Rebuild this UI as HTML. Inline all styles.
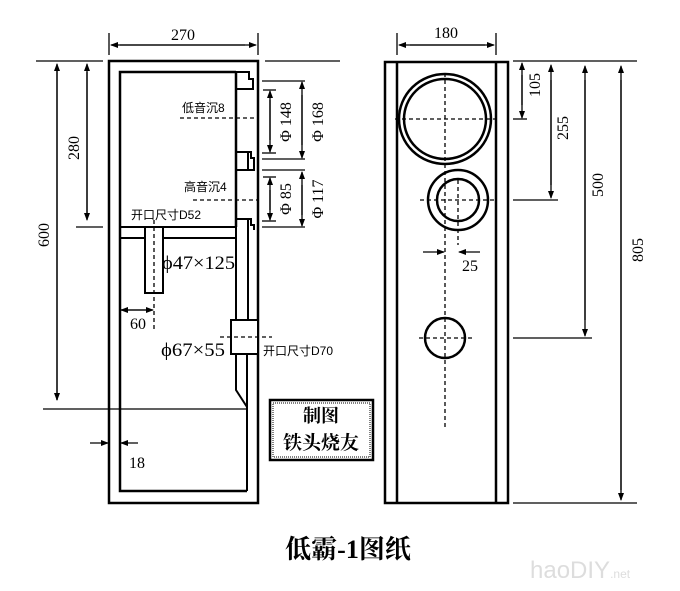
<!DOCTYPE html>
<html><head><meta charset="utf-8"><style>
html,body{margin:0;padding:0;background:#fff;}
svg{display:block;}
text{font-family:"Liberation Serif","Noto Serif CJK SC",serif;fill:#000;}
.c{font-family:"Liberation Sans","Noto Sans CJK SC",sans-serif;font-size:12px;}
</style></head><body>
<svg width="680" height="591" viewBox="0 0 680 591" xmlns="http://www.w3.org/2000/svg">
<defs>
<marker id="a" markerWidth="8" markerHeight="8" refX="7" refY="4" orient="auto" markerUnits="userSpaceOnUse"><path d="M0,1 L8,4 L0,7 Z" fill="#000"/></marker>
</defs>
<g stroke="#000" fill="none">
<rect x="109" y="61" width="149" height="442" stroke-width="2.5"/>
<path d="M236,72 L120,72 L120,491 L247,491" stroke-width="2.5"/>
<line x1="236" y1="72" x2="236" y2="227" stroke-width="2.5"/>
<path d="M236,72 L249,72 L249,79 L253,79 L253,89 L236,89" stroke-width="2"/>
<path d="M236,152 L251,152 L251,158 L254,158 L254,170 L236,170 M248,152 L248,170" stroke-width="2"/>
<path d="M236,219 L251,219 L251,225 L254,225 L254,230 M248,219 L248,320" stroke-width="2"/>
<line x1="120" y1="227" x2="236" y2="227" stroke-width="2"/>
<line x1="120" y1="238" x2="236" y2="238" stroke-width="2"/>
<line x1="236" y1="227" x2="236" y2="320" stroke-width="2"/>
<rect x="145" y="227" width="18" height="66" stroke-width="2" fill="#fff"/>
<line x1="154" y1="220" x2="154" y2="331" stroke-dasharray="4,3" stroke-width="1.3"/>
<rect x="231" y="320" width="27" height="34" stroke-width="2" fill="#fff"/>
<line x1="220" y1="337" x2="272" y2="337" stroke-dasharray="4,3" stroke-width="1.3"/>
<path d="M236,354 L236,390 L247,407 L247,491 M247,354 L247,407" stroke-width="2"/>
<line x1="180" y1="118" x2="258" y2="118" stroke-dasharray="4,3" stroke-width="1.3"/>
<line x1="193" y1="200" x2="258" y2="200" stroke-dasharray="4,3" stroke-width="1.3"/>
<line x1="36" y1="61" x2="103" y2="61" stroke-width="1.3"/>
<line x1="265" y1="61" x2="340" y2="61" stroke-width="1.3"/>
<line x1="76" y1="227" x2="103" y2="227" stroke-width="1.3"/>
<line x1="43" y1="409" x2="247" y2="409" stroke-width="1.3"/>
<line x1="57" y1="70" x2="57" y2="400" stroke-width="1.3" marker-end="url(#a)"/>
<line x1="57" y1="400" x2="57" y2="64" stroke-width="1.3" marker-end="url(#a)"/>
<line x1="87" y1="72" x2="87" y2="220" stroke-width="1.3" marker-end="url(#a)"/>
<line x1="87" y1="215" x2="87" y2="64" stroke-width="1.3" marker-end="url(#a)"/>
<line x1="109" y1="33" x2="109" y2="55" stroke-width="1.3"/>
<line x1="258" y1="33" x2="258" y2="55" stroke-width="1.3"/>
<line x1="120" y1="45" x2="256" y2="45" stroke-width="1.3" marker-end="url(#a)"/>
<line x1="245" y1="45" x2="111" y2="45" stroke-width="1.3" marker-end="url(#a)"/>
<line x1="121" y1="310" x2="153" y2="310" stroke-width="1.3" marker-end="url(#a)"/>
<line x1="150" y1="310" x2="121" y2="310" stroke-width="1.3" marker-end="url(#a)"/>
<line x1="90" y1="443" x2="108" y2="443" stroke-width="1.3" marker-end="url(#a)"/>
<line x1="138" y1="443" x2="121" y2="443" stroke-width="1.3" marker-end="url(#a)"/>
<g stroke-width="1.3">
<line x1="262" y1="81" x2="305" y2="81"/><line x1="263" y1="90" x2="276" y2="90"/>
<line x1="262" y1="153" x2="276" y2="153"/><line x1="262" y1="159" x2="305" y2="159"/>
<line x1="262" y1="170" x2="305" y2="170"/><line x1="263" y1="177" x2="276" y2="177"/>
<line x1="262" y1="221" x2="276" y2="221"/><line x1="262" y1="227" x2="305" y2="227"/>
<line x1="270" y1="100" x2="270" y2="152" marker-end="url(#a)"/><line x1="270" y1="140" x2="270" y2="91" marker-end="url(#a)"/>
<line x1="302" y1="95" x2="302" y2="158" marker-end="url(#a)"/><line x1="302" y1="145" x2="302" y2="82" marker-end="url(#a)"/>
<line x1="270" y1="190" x2="270" y2="220" marker-end="url(#a)"/><line x1="270" y1="210" x2="270" y2="178" marker-end="url(#a)"/>
<line x1="302" y1="185" x2="302" y2="226" marker-end="url(#a)"/><line x1="302" y1="215" x2="302" y2="172" marker-end="url(#a)"/>
</g>
<rect x="270" y="400" width="103" height="60" stroke-width="2.5"/>
<rect x="273" y="403" width="97" height="54" stroke-width="1" stroke-dasharray="1,1"/>

<rect x="385" y="62" width="123" height="441" stroke-width="2.5"/>
<line x1="397" y1="62" x2="397" y2="503" stroke-width="2.5"/>
<line x1="496" y1="62" x2="496" y2="503" stroke-width="2.5"/>
<ellipse cx="445" cy="119" rx="46" ry="45" stroke-width="2.5"/>
<ellipse cx="445" cy="119" rx="41" ry="40" stroke-width="2.5"/>
<circle cx="458" cy="200" r="30" stroke-width="2.5"/>
<circle cx="458" cy="200" r="21" stroke-width="2.5"/>
<circle cx="445" cy="338" r="20" stroke-width="2.5"/>
<g stroke-dasharray="4,3" stroke-width="1.3">
<line x1="445" y1="73" x2="445" y2="428"/>
<line x1="458" y1="180" x2="458" y2="245"/>
<line x1="395" y1="119" x2="497" y2="119"/>
<line x1="420" y1="200" x2="497" y2="200"/>
<line x1="419" y1="338" x2="472" y2="338"/>
</g>
<line x1="397" y1="33" x2="397" y2="55" stroke-width="1.3"/>
<line x1="496" y1="33" x2="496" y2="55" stroke-width="1.3"/>
<line x1="410" y1="45" x2="494" y2="45" stroke-width="1.3" marker-end="url(#a)"/>
<line x1="485" y1="45" x2="399" y2="45" stroke-width="1.3" marker-end="url(#a)"/>
<line x1="423" y1="252" x2="444" y2="252" stroke-width="1.3" marker-end="url(#a)"/>
<line x1="480" y1="252" x2="459" y2="252" stroke-width="1.3" marker-end="url(#a)"/>
<g stroke-width="1.3">
<line x1="513" y1="61" x2="637" y2="61"/>
<line x1="513" y1="119" x2="527" y2="119"/>
<line x1="513" y1="200" x2="558" y2="200"/>
<line x1="513" y1="338" x2="592" y2="338"/>
<line x1="513" y1="503" x2="637" y2="503"/>
<line x1="522" y1="75" x2="522" y2="118" marker-end="url(#a)"/><line x1="522" y1="105" x2="522" y2="63" marker-end="url(#a)"/>
<line x1="551" y1="80" x2="551" y2="198" marker-end="url(#a)"/><line x1="551" y1="185" x2="551" y2="65" marker-end="url(#a)"/>
<line x1="585" y1="80" x2="585" y2="336" marker-end="url(#a)"/><line x1="585" y1="320" x2="585" y2="66" marker-end="url(#a)"/>
<line x1="621" y1="80" x2="621" y2="500" marker-end="url(#a)"/><line x1="621" y1="490" x2="621" y2="66" marker-end="url(#a)"/>
</g>
</g>
<g font-size="16">
<text x="183" y="40" text-anchor="middle">270</text>
<text x="446" y="38" text-anchor="middle">180</text>
<text transform="translate(49,235) rotate(-90)" text-anchor="middle">600</text>
<text transform="translate(79,148) rotate(-90)" text-anchor="middle">280</text>
<text transform="translate(291,122) rotate(-90)" text-anchor="middle">Φ 148</text>
<text transform="translate(323,122) rotate(-90)" text-anchor="middle">Φ 168</text>
<text transform="translate(291,199) rotate(-90)" text-anchor="middle">Φ 85</text>
<text transform="translate(323,199) rotate(-90)" text-anchor="middle">Φ 117</text>
<text transform="translate(540,85) rotate(-90)" text-anchor="middle">105</text>
<text transform="translate(568,128) rotate(-90)" text-anchor="middle">255</text>
<text transform="translate(603,185) rotate(-90)" text-anchor="middle">500</text>
<text transform="translate(643,250) rotate(-90)" text-anchor="middle">805</text>
<text x="138" y="329" text-anchor="middle">60</text>
<text x="137" y="468" text-anchor="middle">18</text>
<text x="470" y="271" text-anchor="middle">25</text>
</g>
<text x="162" y="269" font-size="19" textLength="73" lengthAdjust="spacingAndGlyphs">ϕ47×125</text>
<text x="161" y="356" font-size="19" textLength="64" lengthAdjust="spacingAndGlyphs">ϕ67×55</text>
<text class="c" x="182" y="112">低音沉8</text>
<text class="c" x="184" y="191">高音沉4</text>
<text class="c" x="131" y="219">开口尺寸D52</text>
<text class="c" x="263" y="355">开口尺寸D70</text>
<text x="321" y="422" font-size="18" font-weight="bold" text-anchor="middle">制图</text>
<text x="321" y="449" font-size="19" font-weight="bold" text-anchor="middle">铁头烧友</text>
<text x="348" y="558" font-size="26" font-weight="bold" text-anchor="middle">低霸-1图纸</text>
<text x="530" y="578" font-size="24" style="fill:#ddd;font-family:'Liberation Sans',sans-serif">haoDIY<tspan font-size="12">.net</tspan></text>
</svg>
</body></html>
